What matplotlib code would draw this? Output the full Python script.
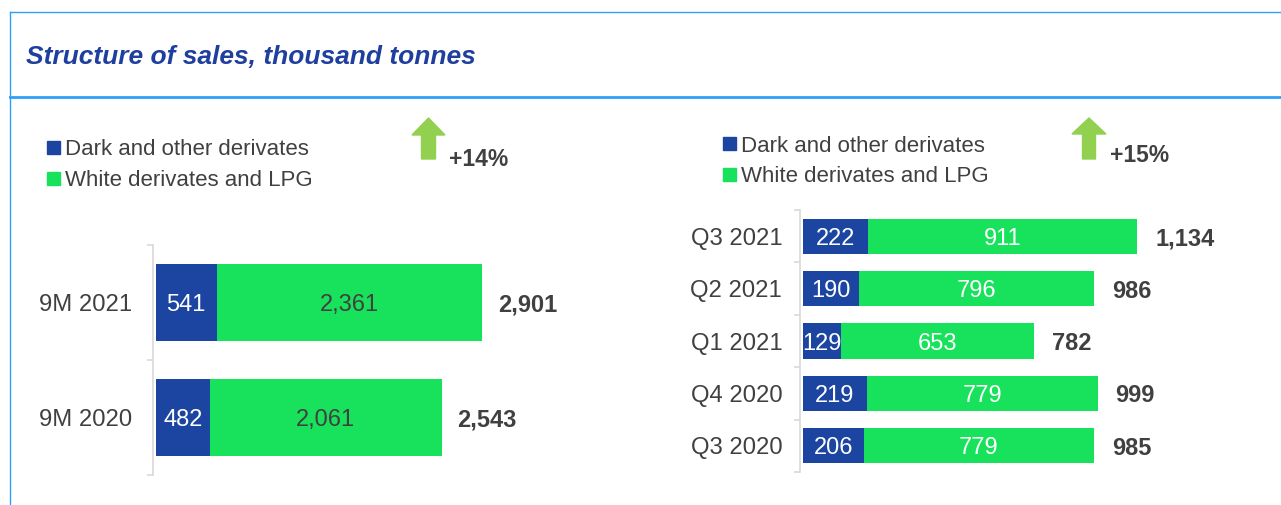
import matplotlib
matplotlib.use("Agg")
import matplotlib.pyplot as plt
from matplotlib.patches import Polygon, Rectangle
from matplotlib.lines import Line2D

plt.rcParams['font.family'] = ['Liberation Sans', 'DejaVu Sans']

# ---------------- data ----------------
title = "Structure of sales, thousand tonnes"
series_names = ["Dark and other derivates", "White derivates and LPG"]

left_periods = ["9M 2021", "9M 2020"]
left_dark = [541, 482]
left_white = [2361, 2061]
left_total = [2901, 2543]
left_growth = "+14%"

right_periods = ["Q3 2021", "Q2 2021", "Q1 2021", "Q4 2020", "Q3 2020"]
right_dark = [222, 190, 129, 219, 206]
right_white = [911, 796, 653, 779, 779]
right_total = [1134, 986, 782, 999, 985]
right_growth = "+15%"

# ---------------- style ----------------
W, H = 1281, 505
DARK = "#1b45a1"
GREEN = "#18e25b"
ARROW = "#92d050"
FRAME = "#2ea0f8"
TXT = "#404040"
TITLE_C = "#1f3f9f"
SPINE = "#d9d9d9"

fig = plt.figure(figsize=(W / 100, H / 100), dpi=100)


def fx(x):
    return x / W


def fy(y):
    return 1 - y / H


# frame lines
fig.add_artist(Line2D([fx(10), 1], [fy(12), fy(12)], color=FRAME, lw=1.0, transform=fig.transFigure))
fig.add_artist(Line2D([fx(9.5), fx(9.5)], [fy(12), 0], color=FRAME, lw=1.0, transform=fig.transFigure))
fig.add_artist(Line2D([fx(10), 1], [fy(97), fy(97)], color=FRAME, lw=2.0, transform=fig.transFigure))

fig.text(fx(26), fy(55), title, fontsize=19, fontweight="bold", fontstyle="italic",
         color=TITLE_C, ha="left", va="center_baseline")


def legend(x, y0, dy):
    for i, (name, col) in enumerate(zip(series_names, [DARK, GREEN])):
        yc = y0 + i * dy
        fig.add_artist(Rectangle((fx(x), fy(yc + 6.5)), 13 / W, 13 / H, color=col,
                                 transform=fig.transFigure))
        fig.text(fx(x + 18), fy(yc), name, fontsize=16, color=TXT, ha="left",
                 va="center_baseline")


def arrow(xl, xr, ytop, ybase, ybot, shaft_w, label, ylab):
    xc = (xl + xr) / 2
    pts = [(xl, ybase), (xc, ytop), (xr, ybase), (xc + shaft_w / 2, ybase),
           (xc + shaft_w / 2, ybot), (xc - shaft_w / 2, ybot), (xc - shaft_w / 2, ybase)]
    fig.add_artist(Polygon([(fx(a), fy(b)) for a, b in pts], closed=True, color=ARROW,
                           transform=fig.transFigure))
    fig.text(fx(xr + 4), fy(ylab), label, fontsize=16.5, fontweight="bold", color=TXT,
             ha="left", va="center_baseline")


legend(47, 147, 31.5)
legend(723, 143.5, 31)
arrow(412, 445, 118, 135, 159, 14, left_growth, 157)
arrow(1072, 1106, 118, 134, 159, 13, right_growth, 153)


def panel(rect_px, periods, dark, white, total, xmax, green_txt, tot_off, lab_pad):
    x0, x1, ytop, ybot = rect_px
    ax = fig.add_axes([fx(x0), fy(ybot), (x1 - x0) / W, (ybot - ytop) / H])
    n = len(periods)
    ys = list(range(n))
    ax.barh(ys, dark, height=0.67, color=DARK, linewidth=0)
    ax.barh(ys, white, left=dark, height=0.67, color=GREEN, linewidth=0)
    for y, d, w, t in zip(ys, dark, white, total):
        ax.text(d / 2, y, f"{d:,}", ha="center", va="center_baseline", fontsize=17, color="white")
        ax.text(d + w / 2, y, f"{w:,}", ha="center", va="center_baseline", fontsize=17,
                color=green_txt)
        ax.annotate(f"{t:,}", xy=(d + w, y), xytext=(tot_off, 0), textcoords="offset points",
                    ha="left", va="center_baseline", fontsize=17, fontweight="bold", color=TXT)
    ax.set_xlim(0, xmax)
    ax.set_ylim(n - 0.5, -0.5)
    ax.set_yticks([i - 0.5 for i in range(n + 1)], minor=True)
    ax.set_yticks(ys, labels=periods)
    ax.tick_params(axis="y", which="major", length=0, pad=lab_pad, labelsize=17.2,
                   labelcolor=TXT)
    ax.tick_params(axis="y", which="minor", length=4, width=1.2, color=SPINE, direction="out")
    for lab in ax.get_yticklabels():
        lab.set_verticalalignment("center_baseline")
    ax.set_xticks([])
    for s in ["top", "right", "bottom"]:
        ax.spines[s].set_visible(False)
    ax.spines["left"].set_color(SPINE)
    ax.spines["left"].set_linewidth(1.2)
    ax.spines["left"].set_position(("outward", 1.8))
    ax.patch.set_alpha(0)
    return ax


panel((155.7, 650, 245, 475), left_periods, left_dark, left_white, left_total,
      494.3 / 0.1124, TXT, 11.5, 15.0)
panel((802.7, 1270, 210, 472), right_periods, right_dark, right_white, right_total,
      467.3 / 0.2954, "white", 13.0, 13.0)

fig.savefig("out.png", dpi=100)
